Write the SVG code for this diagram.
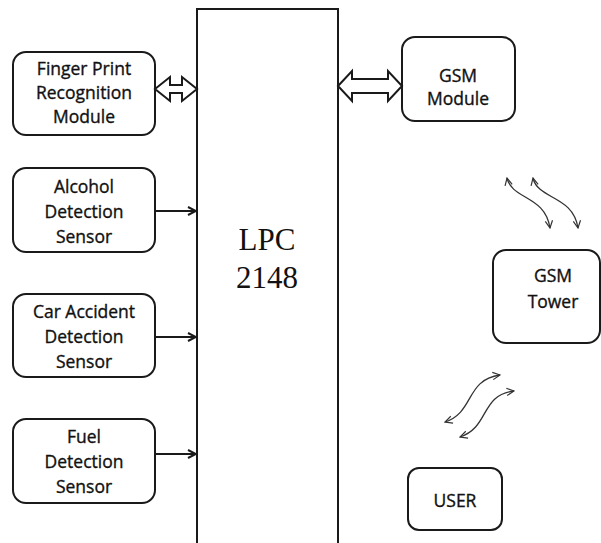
<svg xmlns="http://www.w3.org/2000/svg" width="601" height="543" viewBox="0 0 601 543">
<defs>
<style>
.box{fill:#fff;stroke:#1a1a1a;stroke-width:2}
.t{font-family:"Open Sans","Liberation Sans",sans-serif;font-size:17.5px;fill:#111;stroke:#111;stroke-width:0.35;text-anchor:middle}
.lpc{font-family:"Liberation Serif",serif;font-size:31px;fill:#111;text-anchor:middle}
.ln{fill:none;stroke:#1a1a1a;stroke-width:2}
.wv{fill:none;stroke:#333;stroke-width:1.3}
.hol{fill:#fff;stroke:#1a1a1a;stroke-width:2;stroke-linejoin:miter}
</style>
<marker id="ah" viewBox="0 0 10 10" refX="9" refY="5" markerWidth="5" markerHeight="5" orient="auto" markerUnits="strokeWidth">
<path d="M1,1 L9,5 L1,9" fill="none" stroke="#1a1a1a" stroke-width="2"/>
</marker>
<marker id="wh" viewBox="0 0 10 10" refX="9" refY="5" markerWidth="7" markerHeight="7" orient="auto-start-reverse" markerUnits="strokeWidth">
<path d="M1,1 L9,5 L1,9" fill="none" stroke="#333" stroke-width="1.3"/>
</marker>
</defs>
<rect width="601" height="543" fill="#fff"/>
<g id="lpc">
<rect class="box" x="197" y="9" width="141" height="545"/>
<text class="lpc" x="267" y="250">LPC</text>
<text class="lpc" x="267" y="288">2148</text>
</g>
<g id="finger">
<rect class="box" x="13" y="52" width="142" height="83" rx="13"/>
<text class="t" x="84" y="75">Finger Print</text>
<text class="t" x="84" y="99">Recognition</text>
<text class="t" x="84" y="123">Module</text>
</g>
<g id="alcohol">
<rect class="box" x="13" y="168" width="142" height="84" rx="13"/>
<text class="t" x="84" y="193">Alcohol</text>
<text class="t" x="84" y="218">Detection</text>
<text class="t" x="84" y="243">Sensor</text>
</g>
<g id="accident">
<rect class="box" x="13" y="294" width="142" height="83" rx="13"/>
<text class="t" x="84" y="318">Car Accident</text>
<text class="t" x="84" y="343">Detection</text>
<text class="t" x="84" y="368">Sensor</text>
</g>
<g id="fuel">
<rect class="box" x="13" y="419" width="142" height="84" rx="13"/>
<text class="t" x="84" y="443">Fuel</text>
<text class="t" x="84" y="468">Detection</text>
<text class="t" x="84" y="493">Sensor</text>
</g>
<g id="gsm-module">
<rect class="box" x="402" y="37" width="113" height="84" rx="13"/>
<text class="t" x="458" y="82">GSM</text>
<text class="t" x="458" y="105">Module</text>
</g>
<g id="gsm-tower">
<rect class="box" x="493" y="250" width="107" height="93" rx="13"/>
<text class="t" x="553" y="282">GSM</text>
<text class="t" x="553" y="308">Tower</text>
</g>
<g id="user">
<rect class="box" x="408" y="468" width="94" height="62" rx="11"/>
<text class="t" x="455" y="507">USER</text>
</g>
<g id="connectors">
<polygon class="hol" points="155,89 170,77 170,85 182,85 182,77 197,89 182,101 182,93 170,93 170,101"/>
<polygon class="hol" points="338,86 352,71 352,79 388,79 388,71 402,86 388,101 388,93 352,93 352,101"/>
<line class="ln" x1="155" y1="211" x2="196" y2="211" marker-end="url(#ah)"/>
<line class="ln" x1="155" y1="337" x2="196" y2="337" marker-end="url(#ah)"/>
<line class="ln" x1="155" y1="454" x2="196" y2="454" marker-end="url(#ah)"/>
<path class="wv" d="M507,178 C512,200 545,195 550,228" marker-start="url(#wh)" marker-end="url(#wh)"/>
<path class="wv" d="M533,178 C538,200 573,195 578,228" marker-start="url(#wh)" marker-end="url(#wh)"/>
<path class="wv" d="M445,422 C475,412 465,380 500,375" marker-start="url(#wh)" marker-end="url(#wh)"/>
<path class="wv" d="M460,437 C490,427 480,395 514,391" marker-start="url(#wh)" marker-end="url(#wh)"/>
</g>
</svg>
